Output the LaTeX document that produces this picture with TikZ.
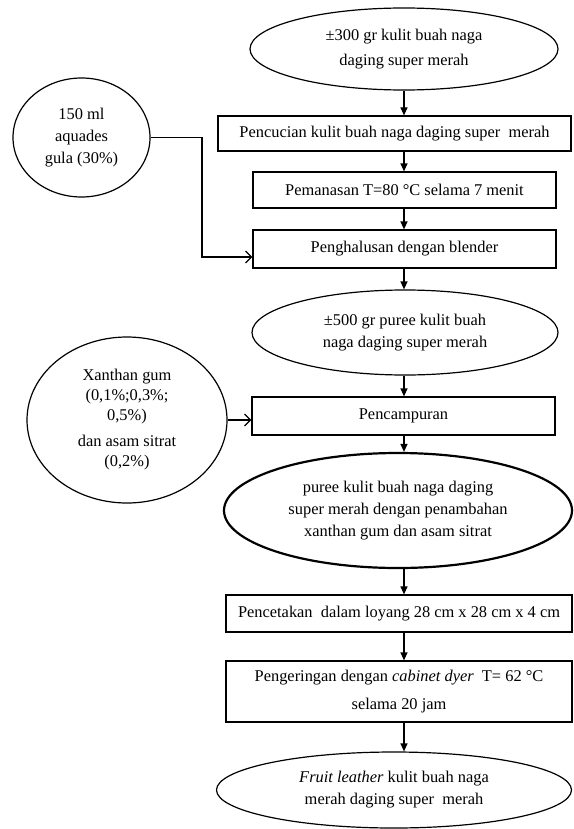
\documentclass[tikz,border=0pt]{standalone}
\usepackage{fontspec}
\setmainfont{Liberation Serif}
\usepackage{tikz}
\usetikzlibrary{shapes.geometric,arrows.meta,positioning}

\begin{document}
\begin{tikzpicture}[x=0.5pt,y=-0.5pt,
  txt/.style={font=\fontsize{8.2}{11}\selectfont, align=center, inner sep=0pt},
  stepbox/.style={txt, rectangle, draw=black, line width=0.6pt},
  oval/.style={txt, ellipse, draw=black, line width=0.6pt},
  flow/.style={-{Triangle[length=4pt,width=3.5pt]}, line width=0.6pt},
  feed/.style={-{Straight Barb[length=3pt,width=6pt]}, line width=0.6pt}]
\useasboundingbox (0,0) rectangle (573,829);

% main line
\node (e1) [oval, minimum width=154pt, minimum height=41pt, font=\fontsize{8.2}{12.5}\selectfont] at (404,49) {±300 gr kulit buah naga\\daging super merah};
\node (b1) [stepbox, minimum width=176.5pt, minimum height=17.5pt] at (394.5,133.5) {Pencucian kulit buah naga daging super\ \ merah};
\node (b2) [stepbox, minimum width=151.5pt, minimum height=18pt] at (404.5,190) {Pemanasan T=80 °C selama 7 menit};
\node (b3) [stepbox, minimum width=151.5pt, minimum height=19pt] at (404.5,249) {Penghalusan dengan blender};
\node (e2) [oval, minimum width=153pt, minimum height=42.5pt] at (405,332.5) {±500 gr puree kulit buah\\naga daging super merah};
\node (b4) [stepbox, minimum width=151.5pt, minimum height=19pt] at (403.5,416) {Pencampuran};
\node (e3) [oval, line width=1.1pt, minimum width=174pt, minimum height=57.5pt] at (398,510.5) {puree kulit buah naga daging\\super merah dengan penambahan\\xanthan gum dan asam sitrat};
\node (b5) [stepbox, minimum width=173pt, minimum height=18.5pt] at (399,613.5) {Pencetakan\ \ dalam loyang 28 cm x 28 cm x 4 cm};
\node (b6) [stepbox, minimum width=173pt, minimum height=30.5pt, font=\fontsize{8.2}{14}\selectfont] at (399,691.5) {Pengeringan dengan \textit{cabinet dyer}\ \ T= 62 °C\\selama 20 jam};
\node (e4) [oval, minimum width=177.5pt, minimum height=38pt] at (394,790) {\textit{Fruit leather} kulit buah naga\\merah daging super\ \ merah};

% side inputs
\node (s1) [oval, minimum width=68.5pt, minimum height=59.5pt] at (81.5,137.5) {150 ml\\aquades\\gula (30\%)};
\node (s2) [oval, minimum width=100pt, minimum height=83pt, font=\fontsize{8.2}{10}\selectfont] at (127,420) {Xanthan gum\\(0,1\%;0,3\%;\\0,5\%)\\[3pt]dan asam sitrat\\(0,2\%)};

\coordinate (axis) at (404,0);
\coordinate (turn) at (202,257);

\foreach \a/\b in {e1/b1, b1/b2, b2/b3, b3/e2, e2/b4, b4/e3, e3/b5, b5/b6, b6/e4}
  \draw[flow] (\a.south -| axis) -- (\b.north -| axis);

\draw[feed] (s1.east) -| (turn) -- (turn -| b3.west);
\draw[feed] (s2.east) -- (s2.east -| b4.west);
\end{tikzpicture}
\end{document}
